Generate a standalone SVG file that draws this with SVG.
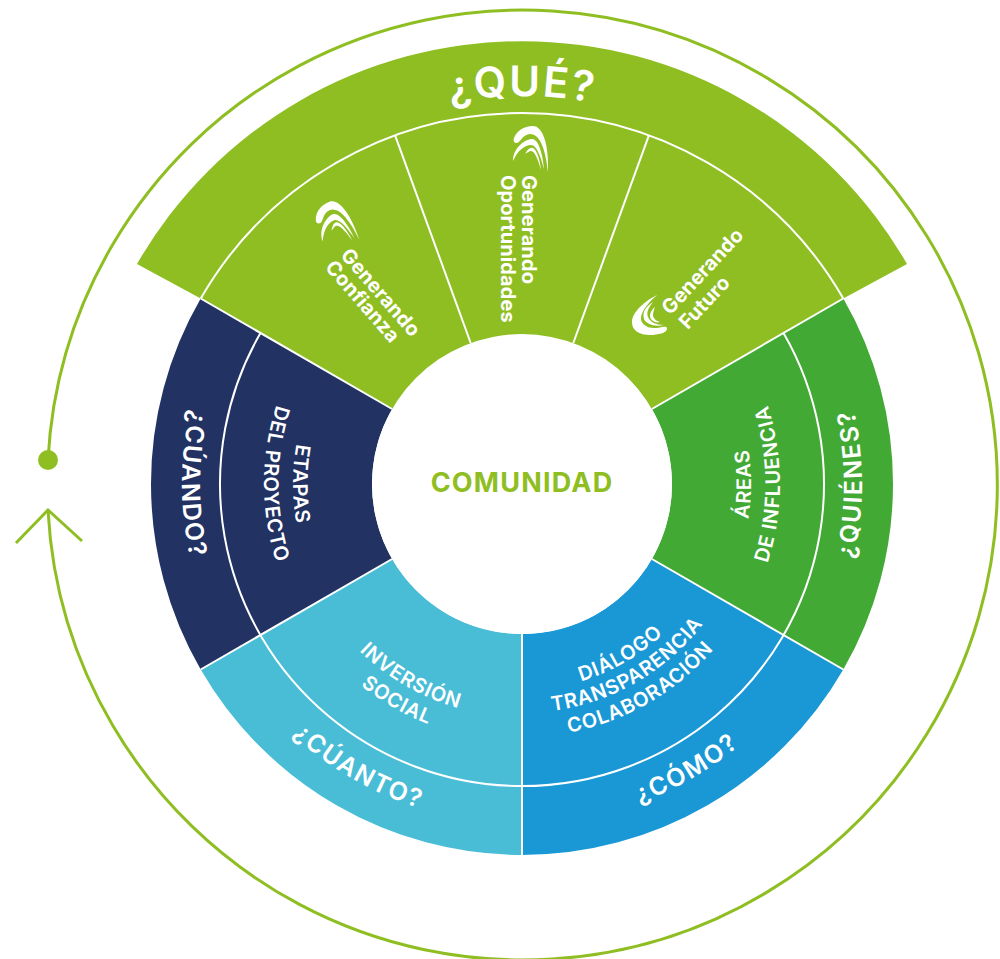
<svg xmlns="http://www.w3.org/2000/svg" width="1000" height="959" viewBox="0 0 1000 959">
<style>
text{font-family:"Inter","Liberation Sans",sans-serif;fill:#fff;text-anchor:middle}
.cap{font-size:25px;font-weight:600;letter-spacing:1.6px}
.inn{font-size:20px;font-weight:600;letter-spacing:.7px}
.gen{font-size:20px;font-weight:700;letter-spacing:.1px}
.div{fill:none;stroke:#fff;stroke-width:2}
.ring{fill:none;stroke:#8fbe22;stroke-width:3}
</style>
<defs>
<path id="r206" d="M679.8,616.4A206,206 0 0 0 679.8,351.6"/>
<path id="r229" d="M697.4,631.2A229,229 0 0 0 697.4,336.8"/>
<path id="r233" d="M700.5,633.8A233,233 0 0 0 700.5,334.2"/>
<path id="r253" d="M715.8,646.6A253,253 0 0 0 715.8,321.4"/>
<path id="r258" d="M719.6,649.8A258,258 0 0 0 719.6,318.2"/>
<path id="r340" d="M782.4,702.6A340,340 0 0 0 782.4,265.4"/>
<path id="top388" d="M272.6,186.8A388,388 0 0 1 771.4,186.8"/>
<g id="logo" fill="#fff">
<path d="M-19,-12C-16,-20 -8,-24 0,-24C10,-24 16,-5 15,22C13,5 9,-16 -3,-16C-10,-16 -13,-7 -16,-7C-19,-7 -20,-9 -19,-12Z"/>
<path d="M-20,11C-20,-2 -8,-11 -1,-11C6,-11 10,6 11,19C8,8 4,-5 -2,-5C-8,-5 -15,0 -20,11Z"/>
<path d="M-8,4C-5,-1 -3,-3 0,-2C4,0 7,10 8,20C5,10 2,1 -2,1C-4,1 -6,3 -8,4Z"/>
</g>
</defs>

<g id="connectors">
<path class="ring" d="M48,460A475,475 0 1 1 48,510"/>
<path class="ring" d="M16,543L48,510L82,541"/>
</g>
<circle id="ring-start" cx="48" cy="460" r="10" fill="#8fbe22"/>

<g id="que">
<path fill="#8fbe22" d="M137,264A444,444 0 0 1 907,264L843.3,298.5L651.9,409L392.1,409L200.7,298.5Z"/>
<text style="font-size:42px;font-weight:600;letter-spacing:2px"><textPath href="#top388" startOffset="50%">¿QUÉ?</textPath></text>
</g>
<g id="generando-confianza">
<use href="#logo" transform="translate(337.7,224.2) rotate(-20)"/>
<text class="gen" transform="translate(375.5,297) rotate(49)">Generando</text>
<text class="gen" transform="translate(357.5,306) rotate(49)">Confianza</text>
</g>
<g id="generando-oportunidades">
<use href="#logo" transform="translate(533,150)"/>
<text class="gen" style="text-anchor:start" transform="translate(522,175) rotate(90)">Generando</text>
<text class="gen" style="text-anchor:start" transform="translate(501,175) rotate(90)">Oportunidades</text>
</g>
<g id="generando-futuro" fill="#fff">
<path d="M657,295C645,301 632,312 632,322C632,332 642,335 650,335C657,335 668,333 667,328C666,325 660,328 654,328C646,328 640,323 641,317C642,310 650,301 657,295Z"/>
<path d="M653,302C645,307 642,313 644,319C646,324 654,327 664,325C656,325 650,322 648,317C646,312 649,307 653,302Z"/>
<path d="M655,307C650,311 649,316 651,319C653,322 657,323 660,322C656,321 653,318 653,315C653,312 654,310 655,307Z"/>
<text class="gen" transform="translate(707.5,276) rotate(-47)">Generando</text>
<text class="gen" transform="translate(709.5,307) rotate(-47)">Futuro</text>
</g>

<g id="quienes">
<path fill="#43a935" d="M843.3,298.5A371,371 0 0 1 843.3,669.5L651.9,559A150,150 0 0 0 651.9,409Z"/>
<text class="inn"><textPath href="#r229" startOffset="50%">ÁREAS</textPath></text>
<text class="inn"><textPath href="#r258" startOffset="50%">DE INFLUENCIA</textPath></text>
<text class="cap"><textPath href="#r340" startOffset="50%">¿QUIÉNES?</textPath></text>
</g>
<g id="como">
<path fill="#1a98d5" d="M843.3,669.5A371,371 0 0 1 522,855L522,634A150,150 0 0 0 651.9,559Z"/>
<g transform="rotate(60 522 484)">
<text class="inn"><textPath href="#r206" startOffset="50%">DIÁLOGO</textPath></text>
<text class="inn"><textPath href="#r229" startOffset="50%">TRANSPARENCIA</textPath></text>
<text class="inn"><textPath href="#r253" startOffset="50%">COLABORACIÓN</textPath></text>
<text class="cap"><textPath href="#r340" startOffset="50%">¿CÓMO?</textPath></text>
</g>
</g>
<g id="cuanto">
<path fill="#4abdd6" d="M522,855A371,371 0 0 1 200.7,669.5L392.1,559A150,150 0 0 0 522,634Z"/>
<g transform="rotate(120 522 484)">
<text class="inn"><textPath href="#r233" startOffset="50%">INVERSIÓN</textPath></text>
<text class="inn"><textPath href="#r258" startOffset="50%">SOCIAL</textPath></text>
<text class="cap"><textPath href="#r340" startOffset="50%">¿CÚANTO?</textPath></text>
</g>
</g>
<g id="cuando">
<path fill="#223263" d="M200.7,669.5A371,371 0 0 1 200.7,298.5L392.1,409A150,150 0 0 0 392.1,559Z"/>
<g transform="rotate(180 522 484)">
<text class="inn"><textPath href="#r229" startOffset="50%">ETAPAS</textPath></text>
<text class="inn"><textPath href="#r258" startOffset="50%">DEL PROYECTO</textPath></text>
<text class="cap"><textPath href="#r340" startOffset="50%">¿CÚANDO?</textPath></text>
</g>
</g>

<g id="dividers">
<path class="div" d="M843.3,298.5L651.9,409M200.7,298.5L392.1,409M843.3,669.5L651.9,559M200.7,669.5L392.1,559M522,855L522,634"/>
<path class="div" d="M395.1,135.4L470.7,343M648.9,135.4L573.3,343"/>
<path class="div" d="M200.7,298.5A371,371 0 0 1 843.3,298.5"/>
<path class="div" d="M783.5,333A302,302 0 1 1 260.5,333"/>
</g>

<g id="comunidad">
<circle cx="522" cy="484" r="150" fill="#fff"/>
<text x="522" y="492" style="fill:#8fbe22;font-size:27px;font-weight:700;letter-spacing:1.2px">COMUNIDAD</text>
</g>
</svg>
